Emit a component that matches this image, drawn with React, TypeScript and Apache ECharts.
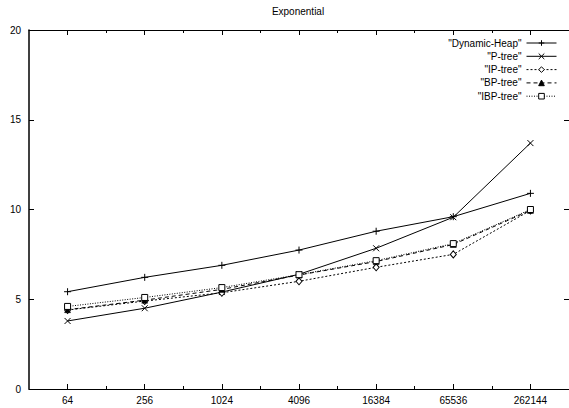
import React, { useEffect, useRef } from "react";
import * as echarts from "echarts";

const sizes = [64, 256, 1024, 4096, 16384, 65536, 262144];
const dynamicHeap = [5.42, 6.22, 6.89, 7.74, 8.79, 9.6, 10.9];
const pTree = [3.79, 4.5, 5.4, 6.39, 7.84, 9.57, 13.7];
const ipTree = [4.4, 4.9, 5.36, 6.0, 6.78, 7.5, 9.95];
const bpTree = [4.42, 4.95, 5.55, 6.35, 7.1, 8.05, 9.95];
const ibpTree = [4.6, 5.1, 5.65, 6.37, 7.15, 8.1, 10.0];
const yTicks = [0, 5, 10, 15, 20];
const title = "Exponential";

const FONT = "Liberation Sans";

export default function App() {
  const ref = useRef<HTMLDivElement>(null);
  useEffect(() => {
    if (!ref.current) return;
    const chart = echarts.init(ref.current, undefined, { renderer: "svg" });
    const exps = sizes.map((s) => Math.log2(s));
    const minorExps = exps.slice(0, -1).map((e) => e + 1);
    const toData = (vals: number[]) => vals.map((v, i) => [exps[i], v]);
    const baseX = {
      type: "value" as const,
      min: 5,
      max: 19,
      splitLine: { show: false },
    };
    const majorTick = { show: true, inside: true, length: 5, customValues: exps, lineStyle: { color: "#000", width: 1 } };
    const minorTickCfg = { show: true, inside: true, length: 3, customValues: minorExps, lineStyle: { color: "#000", width: 1 } };
    const line = (type: any) => ({ color: "#000", width: 1, type });
    const series = [
      {
        name: '"Dynamic-Heap"',
        data: toData(dynamicHeap),
        symbol: "path://M0,5L10,5M5,0L5,10",
        symbolSize: 7,
        itemStyle: { color: "#000", borderColor: "#000", borderWidth: 1 },
        lineStyle: line("solid"),
      },
      {
        name: '"P-tree"',
        data: toData(pTree),
        symbol: "path://M0,0L10,10M10,0L0,10",
        symbolSize: 6,
        itemStyle: { color: "#000", borderColor: "#000", borderWidth: 1 },
        lineStyle: line("solid"),
      },
      {
        name: '"IP-tree"',
        data: toData(ipTree),
        symbol: "diamond",
        symbolSize: [6, 7],
        itemStyle: { color: "#fff", borderColor: "#000", borderWidth: 1 },
        lineStyle: line([2, 2]),
      },
      {
        name: '"BP-tree"',
        data: toData(bpTree),
        symbol: "triangle",
        symbolSize: 6,
        itemStyle: { color: "#000", borderColor: "#000", borderWidth: 0.5 },
        lineStyle: line([4, 3]),
      },
      {
        name: '"IBP-tree"',
        data: toData(ibpTree),
        symbol: "rect",
        symbolSize: 6,
        itemStyle: { color: "#fff", borderColor: "#000", borderWidth: 1 },
        lineStyle: line([1, 1.5]),
      },
    ].map((s) => ({
      ...s,
      type: "line" as const,
      xAxisIndex: 0,
      yAxisIndex: 0,
      showSymbol: true,
      silent: true,
      emphasis: { disabled: true },
    }));

    chart.setOption({
      animation: false,
      backgroundColor: "#fff",
      textStyle: { fontFamily: FONT, color: "#000" },
      title: {
        text: title,
        left: 298,
        top: 6,
        textAlign: "center",
        padding: 0,
        textStyle: { fontFamily: FONT, fontSize: 10, fontWeight: "normal", color: "#000" },
      },
      legend: {
        orient: "vertical",
        align: "right",
        right: 12,
        top: 38,
        padding: 0,
        itemWidth: 30,
        itemHeight: 7,
        itemGap: 3.3,
        selectedMode: false,
        lineStyle: { width: 1 },
        itemStyle: { borderWidth: 1 },
        textStyle: { fontFamily: FONT, fontSize: 10, color: "#000" },
        data: series.map((s) => s.name),
      },
      grid: { left: 29, right: -1, top: 30, bottom: 19, containLabel: false },
      xAxis: [
        {
          ...baseX,
          position: "bottom",
          axisLine: { show: true, lineStyle: { color: "#000", width: 1 } },
          axisTick: majorTick,
          axisLabel: {
            show: true,
            customValues: exps,
            formatter: (v: number) => String(Math.round(Math.pow(2, v))),
            fontFamily: FONT,
            fontSize: 10,
            color: "#000",
            margin: 6,
          },
        },
        {
          ...baseX,
          position: "bottom",
          axisLine: { show: false },
          axisTick: minorTickCfg,
          axisLabel: { show: false },
        },
        {
          ...baseX,
          position: "top",
          axisLine: { show: true, lineStyle: { color: "#000", width: 1 } },
          axisTick: majorTick,
          axisLabel: { show: false },
        },
        {
          ...baseX,
          position: "top",
          axisLine: { show: false },
          axisTick: minorTickCfg,
          axisLabel: { show: false },
        },
      ],
      yAxis: [
        {
          type: "value",
          position: "left",
          min: 0,
          max: 20,
          interval: 5,
          splitLine: { show: false },
          axisLine: { show: true, lineStyle: { color: "#000", width: 1.5 } },
          axisTick: { show: true, inside: true, length: 5, customValues: yTicks, lineStyle: { color: "#000" } },
          axisLabel: { fontFamily: FONT, fontSize: 10, color: "#000", margin: 8, customValues: yTicks },
        },
        {
          type: "value",
          position: "right",
          min: 0,
          max: 20,
          interval: 5,
          splitLine: { show: false },
          axisLine: { show: true, lineStyle: { color: "#000", width: 1 } },
          axisTick: { show: true, inside: true, length: 5, lineStyle: { color: "#000" } },
          axisLabel: { show: false },
        },
      ],
      series,
    });
    return () => chart.dispose();
  }, []);
  return (
    <div
      ref={ref}
      style={{ position: "fixed", left: 0, top: 0, width: 569, height: 408, background: "#fff" }}
    />
  );
}
